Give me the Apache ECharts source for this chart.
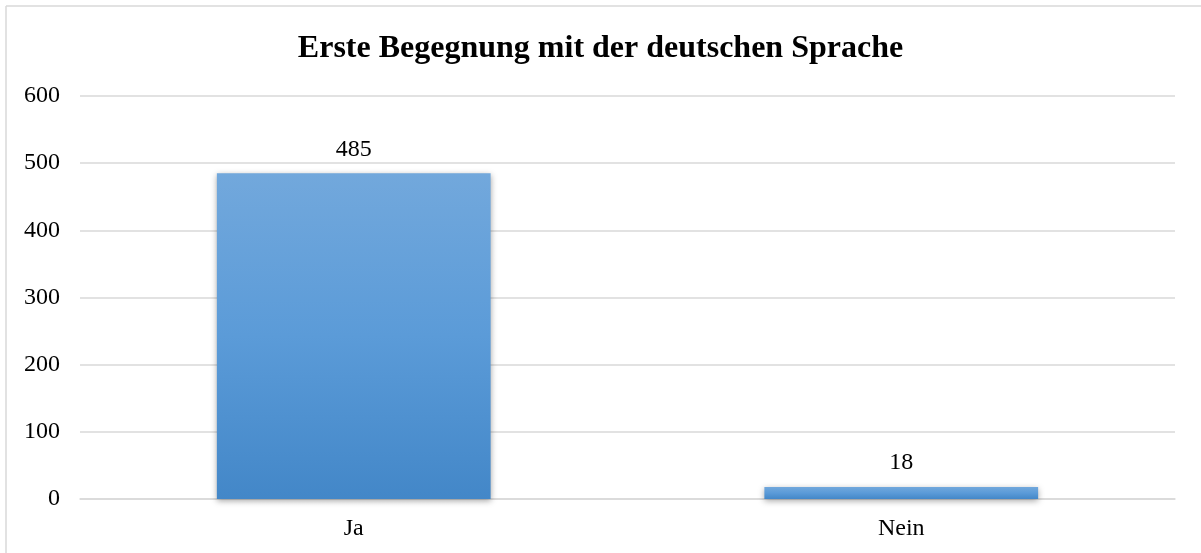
<!DOCTYPE html>
<html>
<head>
<meta charset="utf-8">
<script src="https://cdn.jsdelivr.net/npm/echarts@6/dist/echarts.min.js"></script>
<style>
html,body{margin:0;padding:0;background:#fff;}
#chart{width:1201px;height:553px;}
</style>
</head>
<body>
<div id="chart"></div>
<script>
const titleText = 'Erste Begegnung mit der deutschen Sprache';
const categories = ['Ja', 'Nein'];
const values = [485, 18];
const yTicks = [0, 100, 200, 300, 400, 500, 600];

const font = '"Liberation Serif", "Times New Roman", serif';
const chart = echarts.init(document.getElementById('chart'), null, {renderer: 'canvas'});
chart.setOption({
  backgroundColor: '#ffffff',
  animation: false,
  title: {
    text: titleText,
    left: 'center',
    top: 28,
    textStyle: {fontFamily: font, fontSize: 32, fontWeight: 'bold', color: '#000'}
  },
  graphic: [
    {type: 'line', shape: {x1: 6, y1: 6, x2: 1201, y2: 6}, style: {stroke: '#d9d9d9', lineWidth: 1.5}},
    {type: 'line', shape: {x1: 6, y1: 6, x2: 6, y2: 553}, style: {stroke: '#d9d9d9', lineWidth: 1.5}}
  ],
  grid: {left: 80, right: 26, top: 96, bottom: 54, containLabel: false},
  xAxis: {
    type: 'category',
    data: categories,
    axisLine: {show: true, lineStyle: {color: '#d9d9d9', width: 1.5}},
    axisTick: {show: false},
    axisLabel: {fontFamily: font, fontSize: 24, color: '#000', margin: 18}
  },
  yAxis: {
    type: 'value',
    min: yTicks[0],
    max: yTicks[yTicks.length - 1],
    interval: yTicks[1] - yTicks[0],
    axisLine: {show: false},
    axisTick: {show: false},
    splitLine: {lineStyle: {color: '#d9d9d9', width: 1.5}},
    axisLabel: {fontFamily: font, fontSize: 24, color: '#000', margin: 20}
  },
  series: [{
    type: 'bar',
    data: values,
    barWidth: '50%',
    itemStyle: {
      color: new echarts.graphic.LinearGradient(0, 0, 0, 1, [
        {offset: 0, color: '#72a8dc'},
        {offset: 0.5, color: '#5b9bd8'},
        {offset: 1, color: '#4387c8'}
      ], false),
      shadowColor: 'rgba(0,0,0,0.35)',
      shadowBlur: 6,
      shadowOffsetY: 2
    },
    label: {
      show: true,
      position: 'top',
      distance: 12,
      fontFamily: font,
      fontSize: 24,
      color: '#000'
    }
  }]
});
</script>
</body>
</html>
